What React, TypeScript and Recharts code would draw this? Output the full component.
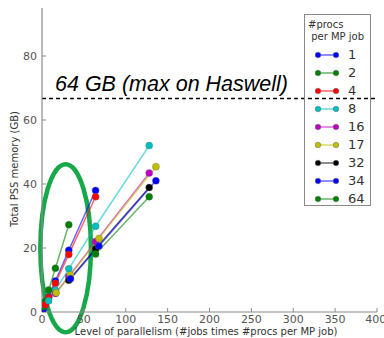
import { LineChart, Line, XAxis, YAxis, ReferenceLine, ReferenceArea } from "recharts";

// one entry per "#procs per MP job" series
const procsPerJob = ["1", "2", "4", "8", "16", "17", "32", "34", "64"];
const seriesColors = ["#0000ff", "#008000", "#ff0000", "#00bfbf", "#bf00bf", "#bfbf00", "#000000", "#0000ff", "#008000"];

// level of parallelism (#jobs x #procs)
const parallelism = [
  [1, 2, 4, 8, 16, 32, 64],
  [2, 4, 8, 16, 32],
  [4, 8, 16, 32, 64],
  [8, 16, 32, 64, 128],
  [16, 32, 64, 128],
  [17, 34, 68, 136],
  [32, 64, 128],
  [34, 68, 136],
  [64, 128],
];

// total PSS memory (GB)
const memoryGB = [
  [0.6, 1.2, 2.4, 4.8, 9.7, 19.3, 38],
  [1.7, 3.4, 6.9, 13.7, 27.3],
  [2.3, 4.5, 9, 18, 36],
  [3.5, 6.8, 13.5, 26.8, 52],
  [5.8, 11.1, 22, 43.4],
  [6, 11.6, 23, 45.4],
  [9.9, 19.8, 38.9],
  [10.4, 20.6, 41],
  [18.1, 36],
];

const xTicks = [0, 50, 100, 150, 200, 250, 300, 350, 400];
const yTicks = [0, 20, 40, 60, 80];
const haswellLimit = 66.7;
const haswellLabel = "64 GB (max on Haswell)";

// highlighted region (data coords)
const highlight = { x1: -2, x2: 58.4, y1: -6.3, y2: 46.2 };

const frame = "#8a8a8a";
const tickFont = { fontSize: 11, fill: "#555", fontFamily: "DejaVu Sans" };

const series = procsPerJob.map((name, i) => ({
  name,
  color: seriesColors[i],
  data: parallelism[i].map((x, j) => ({ x, y: memoryGB[i][j] })),
}));

function HighlightEllipse(props: any) {
  const { x, y, width, height } = props;
  return (
    <ellipse
      cx={x + width / 2}
      cy={y + height / 2}
      rx={width / 2}
      ry={height / 2}
      fill="none"
      stroke="#17a84a"
      strokeWidth={4.5}
    />
  );
}

export default function App() {
  return (
    <div style={{ position: "absolute", left: 0, top: 0, width: 384, height: 338, background: "#fff" }}>
      <LineChart width={384} height={338} data={[]} margin={{ top: 8, right: 7, bottom: 0, left: 12 }}>
        <XAxis
          type="number"
          dataKey="x"
          domain={[0, 400]}
          ticks={xTicks}
          height={26}
          axisLine={{ stroke: frame, strokeWidth: 1.2 }}
          tickLine={{ stroke: frame }}
          tickSize={-4}
          tickMargin={7}
          tick={tickFont}
          allowDataOverflow
          label={{
            content: () => (
              <text x={206} y={335} textAnchor="middle" fontSize={10} fill="#333" fontFamily="DejaVu Sans">
                Level of parallelism (#jobs times #procs per MP job)
              </text>
            ),
          }}
        />
        <XAxis
          xAxisId="top"
          orientation="top"
          type="number"
          domain={[0, 400]}
          ticks={xTicks}
          height={0}
          axisLine={{ stroke: frame, strokeWidth: 1.2 }}
          tickLine={{ stroke: frame }}
          tickSize={-4}
          tick={false}
        />
        <YAxis
          type="number"
          domain={[0, 95]}
          ticks={yTicks}
          width={30}
          axisLine={{ stroke: frame, strokeWidth: 1.2 }}
          tickLine={{ stroke: frame }}
          tickSize={-4}
          tickMargin={9}
          tick={tickFont}
          allowDataOverflow
          label={{
            content: () => (
              <text
                x={0}
                y={0}
                transform="translate(18,169) rotate(-90)"
                textAnchor="middle"
                fontSize={10}
                fill="#333"
                fontFamily="DejaVu Sans"
              >
                Total PSS memory (GB)
              </text>
            ),
          }}
        />
        <YAxis
          yAxisId="right"
          orientation="right"
          type="number"
          domain={[0, 95]}
          ticks={yTicks}
          width={0}
          axisLine={{ stroke: frame, strokeWidth: 1.2 }}
          tickLine={{ stroke: frame }}
          tickSize={-4}
          tick={false}
        />
        {series.map((s) => (
          <Line
            key={s.name + s.color}
            data={s.data}
            dataKey="y"
            name={s.name}
            stroke={s.color}
            strokeOpacity={0.6}
            strokeWidth={1.5}
            dot={{ r: 3.5, fill: s.color, stroke: "#666", strokeWidth: 0.6, fillOpacity: 1 }}
            isAnimationActive={false}
          />
        ))}
        <ReferenceLine
          y={haswellLimit}
          stroke="#000"
          strokeWidth={1.5}
          strokeDasharray="4 3"
          label={(p: any) => (
            <text
              x={p.viewBox.x + 13}
              y={p.viewBox.y - 8}
              fontSize={21.5}
              fontStyle="italic"
              fontFamily="Liberation Sans"
              fill="#000"
            >
              {haswellLabel}
            </text>
          )}
        />
        <ReferenceArea
          x1={highlight.x1}
          x2={highlight.x2}
          y1={highlight.y1}
          y2={highlight.y2}
          ifOverflow="visible"
          shape={<HighlightEllipse />}
        />
      </LineChart>
      <div
        style={{
          position: "absolute",
          left: 304,
          top: 14,
          width: 67,
          height: 192,
          border: `1.2px solid ${frame}`,
          boxSizing: "border-box",
          fontFamily: "DejaVu Sans",
          color: "#333",
        }}
      >
        <div style={{ position: "absolute", left: 3, top: 4, fontSize: 10, lineHeight: "12px", whiteSpace: "pre" }}>
          {"#procs\n per MP job"}
        </div>
        {series.map((s, i) => (
          <div key={i} style={{ position: "absolute", left: 0, top: 32 + i * 18, height: 16, width: 64 }}>
            <svg width={24} height={16} style={{ position: "absolute", left: 10, top: 0 }}>
              <line x1={3} y1={8} x2={21} y2={8} stroke={s.color} strokeOpacity={0.6} strokeWidth={1.5} />
              <circle cx={3} cy={8} r={2.8} fill={s.color} stroke="#666" strokeWidth={0.5} />
              <circle cx={21} cy={8} r={2.8} fill={s.color} stroke="#666" strokeWidth={0.5} />
            </svg>
            <span style={{ position: "absolute", left: 43, top: 0, fontSize: 13, lineHeight: "16px" }}>{s.name}</span>
          </div>
        ))}
      </div>
    </div>
  );
}
